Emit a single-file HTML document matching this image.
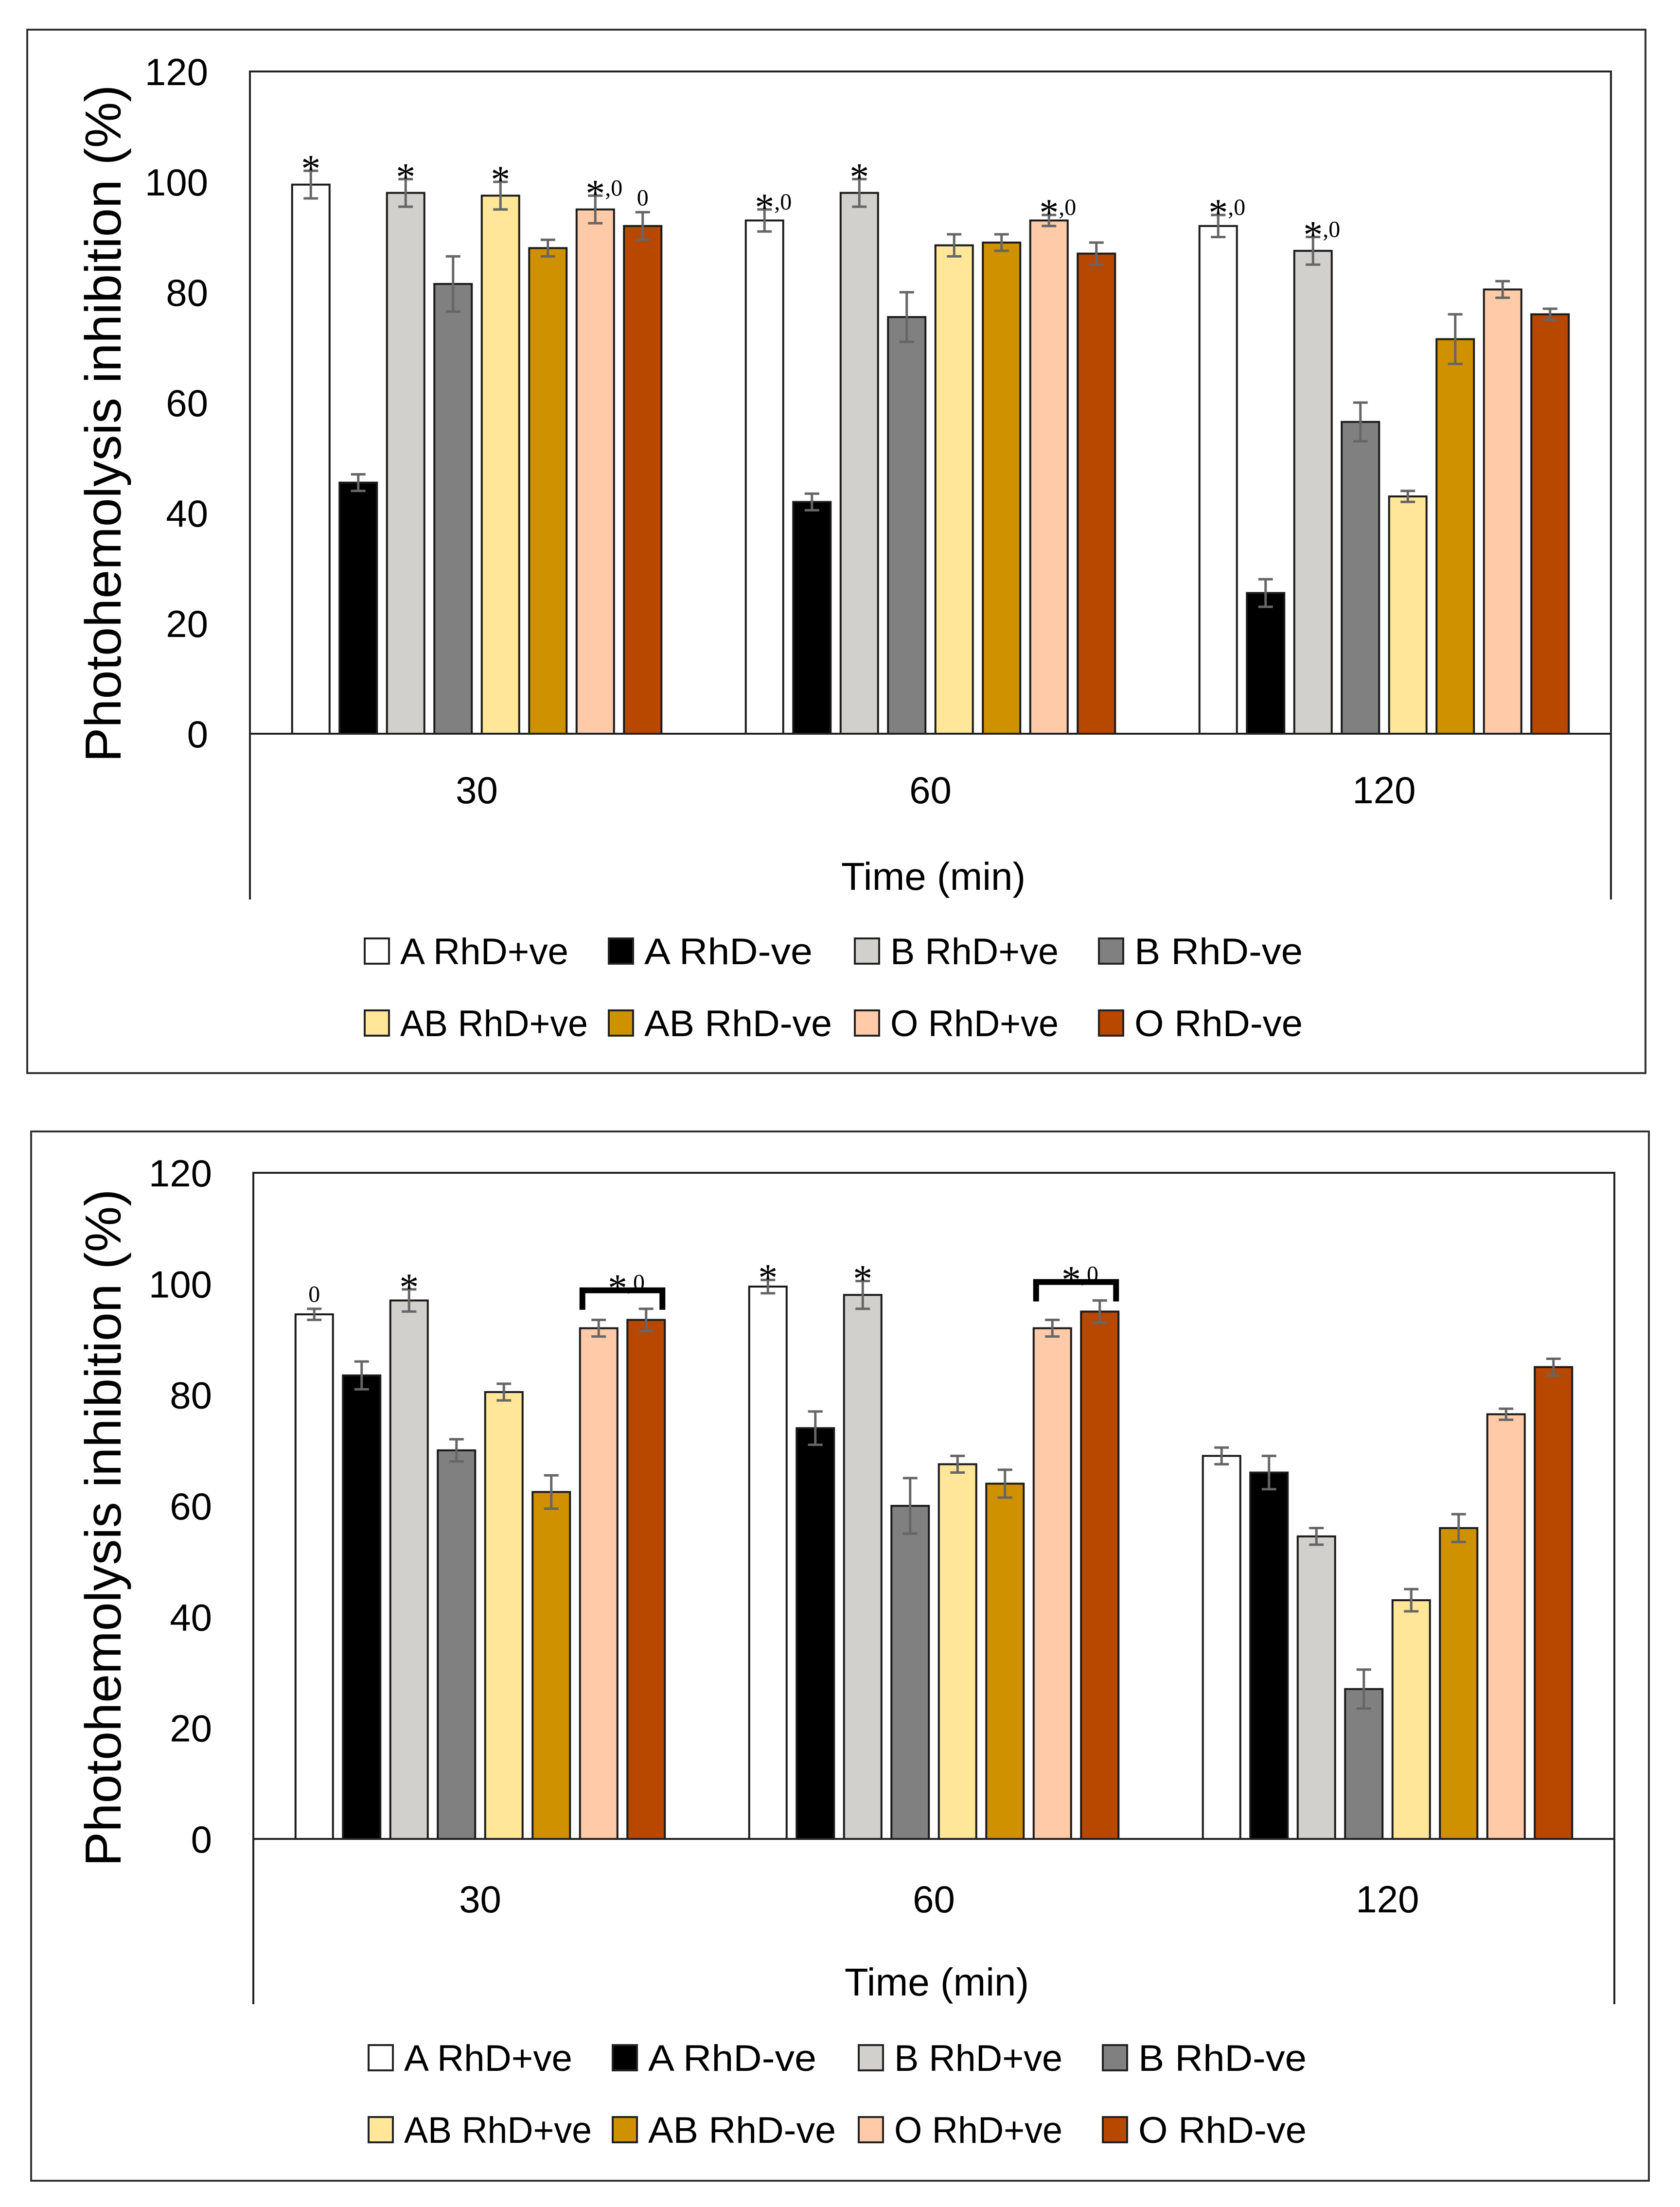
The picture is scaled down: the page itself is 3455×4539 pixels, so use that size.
<!DOCTYPE html>
<html><head><meta charset="utf-8"><style>
html,body{margin:0;padding:0;background:#fff;}
svg{display:block;}
text{font-family:"Liberation Sans",sans-serif;fill:#000;}
.ann{font-family:"Liberation Serif",serif;}
</style></head><body>
<svg id="fig" width="3455" height="4539" viewBox="0 0 3455 4539" xmlns="http://www.w3.org/2000/svg"></svg>
<script>
const categories = ["30", "60", "120"];
const seriesNames = ["A RhD+ve","A RhD-ve","B RhD+ve","B RhD-ve","AB RhD+ve","AB RhD-ve","O RhD+ve","O RhD-ve"];
const yTicks = [0, 20, 40, 60, 80, 100, 120];
// Chart 1 values [category][series]
const chart1Values = [
  [99.5, 45.5, 98, 81.5, 97.5, 88, 95, 92],
  [93, 42, 98, 75.5, 88.5, 89, 93, 87],
  [92, 25.5, 87.5, 56.5, 43, 71.5, 80.5, 76]
];
const chart1Errors = [
  [2.5, 1.5, 2.5, 5, 2.5, 1.5, 2.5, 2.5],
  [2, 1.5, 2.5, 4.5, 2, 1.5, 1, 2],
  [2, 2.5, 2.5, 3.5, 1, 4.5, 1.5, 1]
];
const chart1Notes = [
  ["*", "", "*", "", "*", "", "*,0", "0"],
  ["*,0", "", "*", "", "", "", "*,0", ""],
  ["*,0", "", "*,0", "", "", "", "", ""]
];
// Chart 2 values
const chart2Values = [
  [94.5, 83.5, 97, 70, 80.5, 62.5, 92, 93.5],
  [99.5, 74, 98, 60, 67.5, 64, 92, 95],
  [69, 66, 54.5, 27, 43, 56, 76.5, 85]
];
const chart2Errors = [
  [1, 2.5, 2, 2, 1.5, 3, 1.5, 2],
  [1.2, 3, 2.5, 5, 1.5, 2.5, 1.5, 2],
  [1.5, 3, 1.5, 3.5, 2, 2.5, 1, 1.5]
];
const chart2Notes = [
  ["0", "", "*", "", "", "", "", ""],
  ["*", "", "*", "", "", "", "", ""],
  ["", "", "", "", "", "", "", ""]
];
const chart2Brackets = [[0, 6, 7, "*,0"], [1, 6, 7, "*,0"]];

const colors = ["#ffffff","#000000","#d1d0cd","#808080","#ffe699","#cf9100","#ffcaa8","#b84700"];
const NS = "http://www.w3.org/2000/svg";
const svg = document.getElementById("fig");
function mk(tag, attrs, parent) {
  const e = document.createElementNS(NS, tag);
  for (const k in attrs) e.setAttribute(k, attrs[k]);
  (parent || svg).appendChild(e);
  return e;
}

function drawChart(cfg, values, errors, notes, brackets, idx) {
  const g = mk("g", {});
  
  
  const yScale = v => cfg.zero - v * (cfg.zero - cfg.top) / 120;
  const catW = (cfg.right - cfg.left) / categories.length;
  const pitch = 97.5, barW = 77;
  const xBar = (c, s) => cfg.left + catW * (c + 0.5) + (s - 3.5) * pitch - barW / 2;

  const border = mk("rect", {x: cfg.ox1, y: cfg.oy1, width: cfg.ox2 - cfg.ox1, height: cfg.oy2 - cfg.oy1, fill: "none", stroke: "#333", "stroke-width": 4}, g);
  
  
  const frame = mk("path", {d: `M${cfg.left},${cfg.bottom} V${cfg.top} H${cfg.right} V${cfg.bottom}`, fill: "none", stroke: "#222", "stroke-width": 4}, g);
  
  

  yTicks.forEach(t => {
    const tl = mk("text", {x: cfg.tickX, y: yScale(t) + 28, "text-anchor": "end", "font-size": 78}, g);
    tl.textContent = t;
    
    
  });
  const yt = mk("text", {transform: `translate(248,${cfg.titleY}) rotate(-90)`, "text-anchor": "middle", "font-size": 104, textLength: 1393, lengthAdjust: "spacingAndGlyphs"}, g);
  yt.textContent = "Photohemolysis inhibition (%)";
  
  

  categories.forEach((cat, c) => {
    for (let s = 0; s < seriesNames.length; s++) {
      const v = values[c][s], e = errors[c][s];
      const x = xBar(c, s), y = yScale(v);
      const r = mk("rect", {x: x, y: y, width: barW, height: cfg.zero - y, fill: colors[s], stroke: "#1a1a1a", "stroke-width": 4}, g);
      
      
      const cx = x + barW / 2, y1 = yScale(v + e), y2 = yScale(v - e);
      const eb = mk("path", {d: `M${cx},${y1} V${y2} M${cx-15},${y1} H${cx+15} M${cx-15},${y2} H${cx+15}`, stroke: "#666", "stroke-width": 5, fill: "none"}, g);
      
      
      const n = notes[c][s];
      if (n) {
        const t = mk("text", {x: cx, y: y1 + 22, "text-anchor": n === "0" ? "middle" : "start", class: "ann", "font-size": 80}, g);
        
        
        if (n === "0") { t.setAttribute("font-size", 48); t.setAttribute("y", y1 - 14); t.textContent = "0"; }
        else {
          t.setAttribute("x", cx - 20);
          const a = mk("tspan", {}, t); a.textContent = "*";
          if (n.length > 1) { const b = mk("tspan", {"font-size": 48, dy: -22}, t); b.textContent = ",0"; }
        }
      }
    }
    const cl = mk("text", {x: cfg.left + catW * (c + 0.5), y: cfg.catY, "text-anchor": "middle", "font-size": 78}, g);
    cl.textContent = cat;
    
    
  });

  const z = mk("line", {x1: cfg.left, x2: cfg.right, y1: cfg.zero, y2: cfg.zero, stroke: "#222", "stroke-width": 4}, g);
  
  

  brackets.forEach(b => {
    const [c, s1, s2, label] = b;
    const xa = xBar(c, s1) + 5, xb = xBar(c, s2) + barW - 5;
    const top = Math.max(values[c][s1] + errors[c][s1], values[c][s2] + errors[c][s2]);
    const yb = yScale(top) - 38;
    const p = mk("path", {d: `M${xa},${yb + 40} V${yb} H${xb} V${yb + 40}`, stroke: "#000", "stroke-width": 12, fill: "none"}, g);
    
    
    const t = mk("text", {x: (xa + xb) / 2 - 30, y: yb + 22, class: "ann", "font-size": 80}, g);
    
    
    const a = mk("tspan", {}, t); a.textContent = "*";
    const bb = mk("tspan", {"font-size": 48, dy: -22}, t); bb.textContent = label.slice(1);
  });

  const xt = mk("text", {x: (cfg.left + cfg.right) / 2 + 6, y: cfg.xTitleY, "text-anchor": "middle", "font-size": 80}, g);
  xt.textContent = "Time (min)";
  
  

  seriesNames.forEach((name, s) => {
    const row = Math.floor(s / 4), col = s % 4;
    const sx = cfg.legX[col], sy = cfg.legY[row];
    const lg = mk("g", {}, g);
    
    
    mk("rect", {x: sx, y: sy, width: 50, height: 52, fill: colors[s], stroke: "#222", "stroke-width": 4}, lg);
    const t = mk("text", {x: sx + 73, y: sy + 53, "font-size": 76, textLength: name.length * 40 + 26, lengthAdjust: "spacingAndGlyphs"}, lg);
    t.textContent = name;
  });
}

drawChart({ox1: 56, oy1: 61, ox2: 3384, oy2: 2207, left: 514, right: 3313, top: 147, zero: 1509, bottom: 1850,
  tickX: 428, titleY: 871, catY: 1652, xTitleY: 1830, legX: [750, 1252, 1758, 2260], legY: [1930, 2078]},
  chart1Values, chart1Errors, chart1Notes, [], 1);
drawChart({ox1: 64, oy1: 2327, ox2: 3391, oy2: 4485, left: 521, right: 3320, top: 2412, zero: 3782, bottom: 4122,
  tickX: 436, titleY: 3142, catY: 3933, xTitleY: 4104, legX: [758, 1260, 1766, 2268], legY: [4206, 4354]},
  chart2Values, chart2Errors, chart2Notes, chart2Brackets, 2);
</script>
</body></html>
